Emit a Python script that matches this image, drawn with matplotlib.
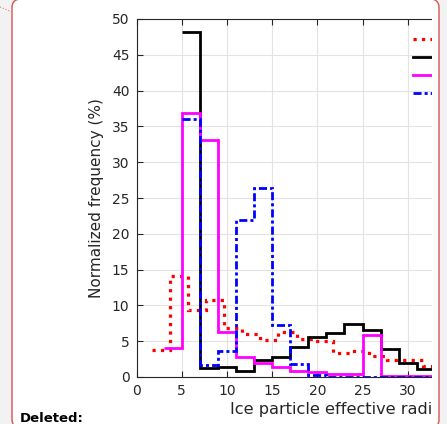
import numpy as np
import matplotlib.pyplot as plt
from matplotlib.patches import FancyBboxPatch, Rectangle
from matplotlib.lines import Line2D

# step histograms (bin edges, values in %)
red_edges = [1.7, 3.7, 5.7, 7.7, 9.7, 11.7, 13.7, 15.7, 17.7, 19.7, 21.7,
             23.7, 25.7, 27.7, 29.7, 31.7, 33.7]
red_vals = [3.8, 14.1, 9.4, 10.8, 6.8, 6.0, 5.1, 6.3, 5.3, 5.0, 3.4, 3.6,
            3.0, 2.4, 2.4, 1.6]

black_edges = [5, 7, 9, 11, 13, 15, 17, 19, 21, 23, 25, 27, 29, 31, 33]
black_vals = [48.2, 1.2, 1.45, 0.85, 2.4, 2.75, 4.2, 5.6, 6.1, 7.35, 6.55,
              3.9, 2.0, 1.1]

magenta_edges = [3, 5, 7, 9, 11, 13, 15, 17, 19, 21, 23, 25, 27, 29, 31, 33]
magenta_vals = [4.0, 36.9, 33.1, 6.3, 2.85, 1.9, 1.35, 0.9, 0.75, 0.45, 0.45,
                5.85, 0.15, 0.15, 0.15]

blue_edges = [5, 7, 9, 11, 13, 15, 17, 19, 21, 23, 25, 27, 29, 31, 33]
blue_vals = [36.0, 1.7, 3.7, 21.9, 26.35, 7.2, 1.8, 0.3, 0.05, 0.05, 0.05,
             0.05, 0.05, 0.05]

labels = ["Series 1", "Series 2", "Series 3", "Series 4"]
xticks = np.arange(0, 51, 5)
yticks = np.arange(0, 51, 5)

W, H = 447, 424
fig = plt.figure(figsize=(W / 100, H / 100), dpi=100, facecolor='#f2f2f2')

# white comment box behind the chart (bottom runs just off the picture)
box_xy = (12 / W, -4 / H)
box_wh = (427 / W, 429 / H)
box = FancyBboxPatch(box_xy, *box_wh,
                     boxstyle="round,pad=0,rounding_size=0.02",
                     transform=fig.transFigure, facecolor='white',
                     edgecolor='none', zorder=-1)
fig.patches.append(box)

# axes run past the right edge (the picture is cropped)
ax = fig.add_axes([136.5 / W, 47 / H, 452 / W, 358 / H])
ax.set_xlim(0, 50)
ax.set_ylim(0, 50)
ax.set_xticks(xticks)
ax.set_yticks(yticks)
ax.grid(True, color='#e3e3e3', lw=0.8)
ax.set_axisbelow(True)
for s in ax.spines.values():
    s.set_color('#262626')
    s.set_linewidth(0.8)
ax.tick_params(direction='in', length=4, width=0.8, top=True, right=False,
               labelsize=10, colors='#262626', pad=5)

ax.stairs(red_vals, red_edges, baseline=None, color='red', lw=2.3,
          linestyle=':')
ax.stairs(black_vals, black_edges, baseline=None, color='black', lw=2)
ax.stairs(magenta_vals, magenta_edges, baseline=None, color='magenta', lw=2)
ax.stairs(blue_vals, blue_edges, baseline=None, color='blue', lw=2,
          linestyle=(0, (2.9, 1.1, 1.1, 1.1)))

ax.set_ylabel("Normalized frequency (%)", fontsize=11, color='#262626',
              labelpad=6)
ax.set_xlabel("Ice particle effective radius (\u03bcm)", fontsize=11.6,
              color='#262626', labelpad=3)

handles = [Line2D([], [], color='red', lw=2.3, linestyle=':'),
           Line2D([], [], color='black', lw=2),
           Line2D([], [], color='magenta', lw=2),
           Line2D([], [], color='blue', lw=2,
                  linestyle=(0, (2.9, 1.1, 1.1, 1.1)))]
ax.legend(handles, labels, loc='upper left', frameon=False, fontsize=10,
          bbox_to_anchor=(413 / W, 1 - 33 / H), bbox_transform=fig.transFigure,
          borderpad=0, borderaxespad=0, labelspacing=0.28, handlelength=2.2)

# crop mask on the right and the box outline
fig.add_artist(Rectangle((432 / W, 0), 7 / W, 1, transform=fig.transFigure,
                         facecolor='white', edgecolor='none', zorder=5))
fig.add_artist(Rectangle((439 / W, 0), 8 / W, 1, transform=fig.transFigure,
                         facecolor='#f2f2f2', edgecolor='none', zorder=5))
fig.add_artist(FancyBboxPatch(box_xy, *box_wh,
                              boxstyle="round,pad=0,rounding_size=0.02",
                              transform=fig.transFigure, facecolor='none',
                              edgecolor='#d9534f', lw=1, zorder=6))
fig.add_artist(Line2D([0, 12 / W], [1 - 7 / H, 1 - 12 / H],
                      transform=fig.transFigure, color='#e08080', lw=0.8,
                      linestyle=':', zorder=6))

fig.text(20 / W, 2 / H, "Deleted:", fontsize=9.5, fontweight='bold',
         color='black', ha='left', va='baseline')

fig.savefig("out.png", dpi=100, facecolor=fig.get_facecolor())
